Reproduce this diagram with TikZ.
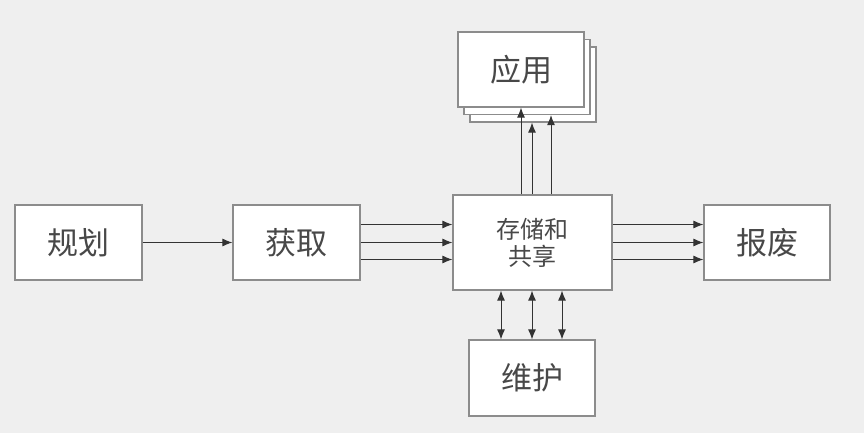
\documentclass[tikz,border=0pt]{standalone}
\usepackage{fontspec}
\setmainfont{Noto Sans CJK SC}
\usetikzlibrary{arrows.meta,calc}
\definecolor{bgc}{HTML}{EFEFEF}
\definecolor{edgec}{HTML}{8C8C8C}
\definecolor{txtc}{HTML}{484848}
\definecolor{linec}{HTML}{333333}
\begin{document}
\begin{tikzpicture}[x=1pt,y=-1pt,
  box/.style={draw=edgec,fill=white,line width=1.2pt,inner sep=0pt,
    minimum width=127pt,minimum height=75pt,text=txtc,
    font=\fontsize{31}{34}\selectfont},
  tip/.style={Latex[length=10pt,width=8pt]},
  arr/.style={draw=linec,line width=1pt,-{Latex[length=10pt,width=8pt]}},
  darr/.style={draw=linec,line width=1pt,{Latex[length=10pt,width=8pt]}-{Latex[length=10pt,width=8pt]}}]
\fill[bgc] (0,0) rectangle (864,433);
\useasboundingbox (0,0) rectangle (864,433);
% nodes
\node[box] (guihua) at (78.5,242.5) {规划};
\node[box] (huoqu) at (296.5,242.5) {获取};
\node[box,minimum width=159pt,minimum height=95pt,align=center,
  font=\fontsize{24}{27}\selectfont] (cunchu) at (532.5,242.5) {存储和\\共享};
\node[box,minimum width=126pt] (baofei) at (767,242.5) {报废};
\node[box,minimum width=126pt,minimum height=76pt] (weihu) at (532,378) {维护};
\node[box,minimum width=126pt] (app3) at (533,84.5) {};
\node[box,minimum width=126pt] (app2) at (527,77) {};
\node[box,minimum width=126pt] (app1) at (521,69.5) {应用};
% left arrows
\draw[arr] (guihua.east) -- (huoqu.west);
\foreach \d in {-18,0,17}{
  \draw[arr] ([yshift=-\d pt]huoqu.east) -- ([yshift=-\d pt]cunchu.west);
  \draw[arr] ([yshift=-\d pt]cunchu.east) -- ([yshift=-\d pt]baofei.west);
}
% up arrows
\coordinate (u1) at ([xshift=-11.5pt]cunchu.north);
\coordinate (u2) at ([xshift=-0.5pt]cunchu.north);
\coordinate (u3) at ([xshift=18.5pt]cunchu.north);
\draw[arr] (u1) -- (u1 |- app1.south);
\draw[arr] (u2) -- (u2 |- app3.south);
\draw[arr] (u3) -- (u3 |- app2.south);
% double arrows
\foreach \d in {-31.5,-0.5,29.5}{
  \draw[darr] ([xshift=\d pt]cunchu.south) -- ([xshift=\d pt]cunchu.south |- weihu.north);
}
\end{tikzpicture}
\end{document}
